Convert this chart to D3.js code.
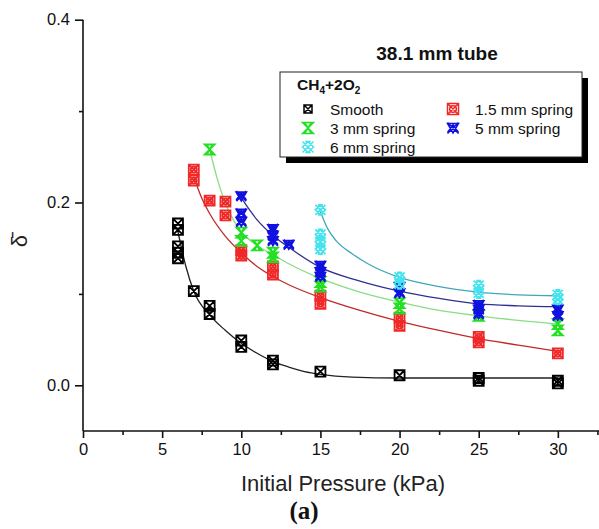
<!DOCTYPE html>
<html>
<head>
<meta charset="utf-8">
<script src="https://cdn.jsdelivr.net/npm/d3@7"></script>
<style>
  body { margin: 0; background: #fff; }
  svg { font-family: "Liberation Sans", Arial, sans-serif; }
</style>
</head>
<body>
<div id="graph"></div>
<script>
// measured points [pressure, delta]
const smooth = [[6, 0.177], [6, 0.170], [6, 0.152], [6, 0.145], [6, 0.139], [7, 0.103], [8, 0.087], [8, 0.078],
    [10, 0.049], [10, 0.042], [12, 0.027], [12, 0.023], [15, 0.015], [20, 0.011], [25, 0.008], [25, 0.005], [30, 0.005], [30, 0.002]];
const spring15 = [[7, 0.236], [7, 0.224], [8, 0.202], [9, 0.201], [9, 0.186], [10, 0.148], [10, 0.142], [12, 0.130], [12, 0.121],
    [15, 0.098], [15, 0.089], [20, 0.074], [20, 0.065], [25, 0.053], [25, 0.047], [30, 0.035]];
const spring3 = [[8, 0.258], [10, 0.167], [10, 0.158], [11, 0.153], [12, 0.145], [12, 0.140], [15, 0.113], [15, 0.108],
    [20, 0.090], [20, 0.084], [25, 0.076], [30, 0.067], [30, 0.060]];
const spring5 = [[10, 0.207], [10, 0.188], [10, 0.179], [12, 0.171], [12, 0.164], [12, 0.158], [13, 0.154], [15, 0.131], [15, 0.124], [15, 0.119],
    [20, 0.108], [20, 0.101], [25, 0.088], [25, 0.083], [25, 0.078], [30, 0.083], [30, 0.076]];
const spring6 = [[15, 0.192], [15, 0.165], [15, 0.157], [15, 0.149], [20, 0.118], [20, 0.111], [25, 0.109], [25, 0.101], [30, 0.099], [30, 0.094]];

// fitted curves
const fitSmooth = [[6, 0.168], [6.5, 0.130], [7, 0.103], [8, 0.077], [9, 0.060], [10, 0.046], [11, 0.035], [12, 0.026], [13, 0.020],
    [14, 0.015], [15, 0.012], [17, 0.009], [20, 0.008], [25, 0.008], [30, 0.008]];
const fit15 = [[7, 0.228], [7.5, 0.205], [8, 0.188], [9, 0.163], [10, 0.145], [11, 0.130], [12, 0.119], [13, 0.110], [15, 0.096],
    [17.5, 0.082], [20, 0.070], [22.5, 0.060], [25, 0.051], [27.5, 0.044], [30, 0.037]];
const fit3 = [[8, 0.258], [8.5, 0.225], [9, 0.199], [9.5, 0.181], [10, 0.168], [11, 0.153], [12, 0.143], [13, 0.133], [15, 0.117],
    [17.5, 0.102], [20, 0.091], [22.5, 0.082], [25, 0.076], [27.5, 0.071], [30, 0.067]];
const fit5 = [[10, 0.205], [11, 0.181], [12, 0.164], [13, 0.151], [15, 0.129], [17.5, 0.114], [20, 0.103], [22.5, 0.095],
    [25, 0.089], [27.5, 0.087], [30, 0.086]];
const fit6 = [[15, 0.190], [15.5, 0.170], [16, 0.158], [17, 0.144], [18, 0.133], [20, 0.118], [22.5, 0.108], [25, 0.102],
    [27.5, 0.099], [30, 0.098]];

const xMajor = [0, 5, 10, 15, 20, 25, 30];
const xMinor = [2.5, 7.5, 12.5, 17.5, 22.5, 27.5, 32.5];
const yMajor = [0.0, 0.2, 0.4];
const yMinor = [0.1, 0.3];

// marker shapes
function sqX(s) { return `M${-s},${-s}H${s}V${s}H${-s}Z M${-s},${-s}L${s},${s} M${s},${-s}L${-s},${s}`; }
function sqXO(s) { return sqX(s) + ` M${s*0.6},0 A${s*0.6},${s*0.6} 0 1 1 ${-s*0.6},0 A${s*0.6},${s*0.6} 0 1 1 ${s*0.6},0`; }
function hourglass(s) { return `M${-s},${-s}H${s}L${-s},${s}H${s}Z M${-s*0.6},${-s}L0,0L${s*0.6},${-s} M${-s*0.6},${s}L0,0L${s*0.6},${s}`; }
function starX(s) { return `M${-s},${-s*0.8}H${s}L0,${s*0.9}Z M${-s},${s*0.8}L0,${-s*0.6}L${s},${s*0.8} M${-s},${-s}L${s},${s} M${s},${-s}L${-s},${s}`; }
function xDiamond(s) { return `M${-s},${-s}L${s},${s} M${s},${-s}L${-s},${s} M0,${-s}L${s},0L0,${s}L${-s},0Z M${-s*0.5},${-s}L${s*0.5},${-s} M${-s*0.5},${s}L${s*0.5},${s}`; }

const series = [
    { name: "Smooth", data: smooth, fit: fitSmooth, color: "#000", line: "#222", shape: sqX, lx: 308, ly: 109 },
    { name: "1.5 mm spring", data: spring15, fit: fit15, color: "#f02828", line: "#c02a2a", shape: sqXO, lx: 453, ly: 109 },
    { name: "3 mm spring", data: spring3, fit: fit3, color: "#22e022", line: "#88dd88", shape: hourglass, lx: 308, ly: 128 },
    { name: "5 mm spring", data: spring5, fit: fit5, color: "#1010e0", line: "#303090", shape: starX, lx: 453, ly: 128 },
    { name: "6 mm spring", data: spring6, fit: fit6, color: "#44e4ee", line: "#40a8b8", shape: xDiamond, lx: 308, ly: 147 }
];

const svg = d3.select("#graph").append("svg")
    .attr("width", 599)
    .attr("height", 529);

const x = d3.scaleLinear().domain([0, 32.6]).range([83, 599]);
const y = d3.scaleLinear().domain([-0.05, 0.4]).range([431, 19.7]);

// axes
svg.append("g").attr("transform", "translate(0,431)")
    .call(d3.axisBottom(x).tickValues(xMajor).tickSize(7).tickPadding(5).tickFormat(d3.format("d")))
    .call(g => g.select(".domain").attr("d", "M83,0H599"));
svg.append("g").attr("transform", "translate(0,431)")
    .call(d3.axisBottom(x).tickValues(xMinor).tickSize(4).tickFormat(""))
    .call(g => g.select(".domain").remove());
svg.append("g").attr("transform", "translate(83,0)")
    .call(d3.axisLeft(y).tickValues(yMajor).tickSize(8).tickPadding(5).tickFormat(d3.format(".1f")))
    .call(g => g.select(".domain").attr("d", `M0,${y(0.4)}V431`));
svg.append("g").attr("transform", "translate(83,0)")
    .call(d3.axisLeft(y).tickValues(yMinor).tickSize(4).tickFormat(""))
    .call(g => g.select(".domain").remove());

svg.selectAll(".tick text").attr("font-size", 16.5).attr("fill", "#111")
    .attr("font-family", "'Liberation Sans', Arial, sans-serif");
svg.selectAll(".domain, .tick line").attr("stroke", "#111").attr("stroke-width", 1.6);

// axis labels
svg.append("text").attr("x", 343).attr("y", 491).attr("text-anchor", "middle")
    .attr("font-size", 22).attr("fill", "#222").text("Initial Pressure (kPa)");
svg.append("text").attr("transform", "translate(27,241) rotate(-90)").attr("text-anchor", "middle")
    .attr("font-size", 22).attr("fill", "#222").text("δ\u0304");
svg.append("text").attr("x", 304).attr("y", 519).attr("text-anchor", "middle")
    .attr("font-family", "'Liberation Serif', 'Times New Roman', serif").attr("font-weight", "bold")
    .attr("font-size", 25).attr("fill", "#111").text("(a)");

// fits
const line = d3.line().x(d => x(d[0])).y(d => y(d[1])).curve(d3.curveMonotoneX);
series.forEach(s => {
    svg.append("path").datum(s.fit)
        .attr("fill", "none")
        .attr("stroke", s.line)
        .attr("stroke-width", 1.3)
        .attr("d", line);
});

// markers
series.forEach(s => {
    svg.append("g").selectAll("path").data(s.data).join("path")
        .attr("transform", d => `translate(${x(d[0])},${y(d[1])})`)
        .attr("d", s.shape(5))
        .attr("fill", "none")
        .attr("stroke", s.color)
        .attr("stroke-width", 1.8);
});

// title
svg.append("text").attr("x", 437).attr("y", 60).attr("text-anchor", "middle")
    .attr("font-size", 19).attr("font-weight", "bold").attr("fill", "#111").text("38.1 mm tube");

// legend
const lg = svg.append("g");
lg.append("rect").attr("x", 286).attr("y", 78).attr("width", 302).attr("height", 85).attr("fill", "#000");
lg.append("rect").attr("x", 280).attr("y", 72).attr("width", 302).attr("height", 85)
    .attr("fill", "#fff").attr("stroke", "#222").attr("stroke-width", 1);
const head = lg.append("text").attr("x", 297).attr("y", 90).attr("font-size", 15.5).attr("font-weight", "bold").attr("fill", "#111");
head.append("tspan").text("CH");
head.append("tspan").attr("font-size", 10).attr("dy", 4).text("4");
head.append("tspan").attr("dy", -4).text("+2O");
head.append("tspan").attr("font-size", 10).attr("dy", 4).text("2");

series.forEach(s => {
    lg.append("path").attr("transform", `translate(${s.lx},${s.ly})`)
        .attr("d", s.shape(s.name === "Smooth" ? 4 : 5.5))
        .attr("fill", "none").attr("stroke", s.color).attr("stroke-width", 1.5);
    lg.append("text").attr("x", s.lx + 22).attr("y", s.ly + 5.5)
        .attr("font-size", 15.5).attr("fill", "#111").text(s.name);
});
</script>
</body>
</html>
